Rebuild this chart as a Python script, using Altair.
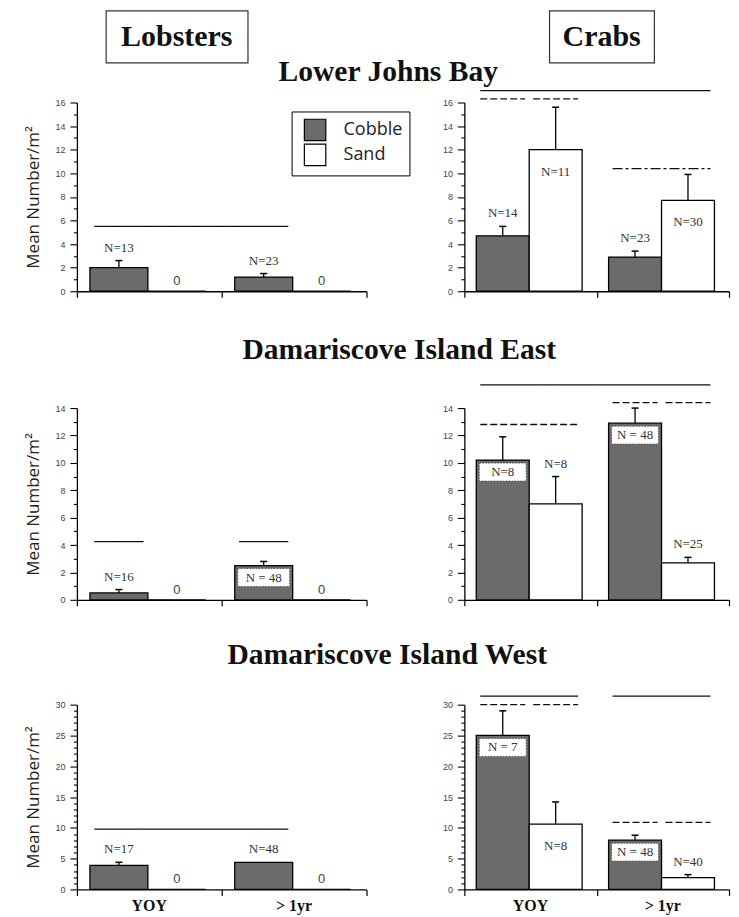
import altair as alt
import pandas as pd

# ---------------- data ----------------
ROWS = ["Lower Johns Bay", "Damariscove Island East", "Damariscove Island West"]
ANIMALS = ["Lobsters", "Crabs"]
AGES = ["YOY", "> 1yr"]
SUBSTRATES = ["Cobble", "Sand"]

Y_MAX = [16, 14, 30]
Y_STEP = [2, 2, 5]
Y_MINOR = [0.5, 0.5, 1]

bar_row = [r for r in ROWS for _ in range(8)]
bar_animal = [a for _ in ROWS for a in ANIMALS for _ in range(4)]
bar_age = [g for _ in range(6) for g in AGES for _ in range(2)]
bar_sub = SUBSTRATES * 12
bar_mean = [2.0, 0, 1.2, 0, 4.7, 12.0, 2.9, 7.7,
            0.5, 0, 2.5, 0, 10.2, 7.0, 12.9, 2.7,
            3.9, 0, 4.4, 0, 25.0, 10.6, 8.0, 1.9]
bar_err = [2.6, 0, 1.5, 0, 5.5, 15.6, 3.4, 9.9,
           0.75, 0, 2.8, 0, 11.9, 9.0, 14.0, 3.1,
           4.4, 0, 4.4, 0, 29.0, 14.2, 8.8, 2.4]
bar_label = ["N=13", "0", "N=23", "0", "N=14", "N=11", "N=23", "N=30",
             "N=16", "0", "N = 48", "0", "N=8", "N=8", "N = 48", "N=25",
             "N=17", "0", "N=48", "0", "N = 7", "N=8", "N = 48", "N=40"]
bar_mode = ["above", "zero", "above", "zero", "above", "in", "above", "in",
            "above", "zero", "box", "zero", "box", "above", "box", "above",
            "above", "zero", "above", "zero", "box", "in", "box", "above"]

# significance lines: row, animal, level, first bar, last bar, style
line_row = ["Lower Johns Bay"] * 5 + ["Damariscove Island East"] * 6 + ["Damariscove Island West"] * 7
line_animal = ["Lobsters", "Crabs", "Crabs", "Crabs", "Crabs",
               "Lobsters", "Lobsters", "Crabs", "Crabs", "Crabs", "Crabs",
               "Lobsters", "Crabs", "Crabs", "Crabs", "Crabs", "Crabs", "Crabs"]
line_y = [5.5, 17.0, 16.3, 16.3, 10.4,
          4.25, 4.25, 15.7, 12.8, 14.4, 14.4,
          9.8, 31.4, 31.4, 30.0, 30.0, 10.9, 10.9]
line_from = ["YOY|Cobble", "YOY|Cobble", "YOY|Cobble", "YOY|Sand", "> 1yr|Cobble",
             "YOY|Cobble", "> 1yr|Cobble", "YOY|Cobble", "YOY|Cobble", "> 1yr|Cobble", "> 1yr|Sand",
             "YOY|Cobble", "YOY|Cobble", "> 1yr|Cobble", "YOY|Cobble", "YOY|Sand", "> 1yr|Cobble", "> 1yr|Sand"]
line_to = ["> 1yr|Cobble", "> 1yr|Sand", "YOY|Cobble", "YOY|Sand", "> 1yr|Sand",
           "YOY|Cobble", "> 1yr|Cobble", "> 1yr|Sand", "YOY|Sand", "> 1yr|Cobble", "> 1yr|Sand",
           "> 1yr|Cobble", "YOY|Sand", "> 1yr|Sand", "YOY|Cobble", "YOY|Sand", "> 1yr|Cobble", "> 1yr|Sand"]
line_style = ["solid", "solid", "dashed", "dashed", "dashdot",
              "solid", "solid", "solid", "dashed", "dashed", "dashed",
              "solid", "solid", "solid", "dashed", "dashed", "dashed", "dashed"]

# ---------------- layout constants ----------------
COBBLE = "#6b6b6b"
SLOT_OFF = {"Cobble": 0.09, "Sand": 0.49}
BAR_W = 0.4
INSET = 0.03
LOB_W, CRAB_W = 290, 265
HEIGHTS = [189, 192, 185]
TITLE_OFF = [2, 18, 24]
TITLE_DX = [11, 22, 10]
SERIF = "Liberation Serif"
SANS = "Open Sans"


def slot_start(key):
    age, sub = key.split("|")
    return AGES.index(age) + SLOT_OFF[sub]


bars = pd.DataFrame(dict(row=bar_row, animal=bar_animal, age=bar_age, sub=bar_sub,
                         mean=bar_mean, err=bar_err, label=bar_label, mode=bar_mode))
bars["x0"] = [AGES.index(a) + SLOT_OFF[s] for a, s in zip(bars.age, bars["sub"])]
bars["x1"] = bars.x0 + BAR_W
bars["xc"] = bars.x0 + BAR_W / 2

lines = pd.DataFrame(dict(row=line_row, animal=line_animal, ly=line_y,
                          f=line_from, t=line_to, style=line_style))
lines["lx0"] = [slot_start(k) + INSET for k in lines.f]
lines["lx1"] = [slot_start(k) + BAR_W - INSET for k in lines.t]

age_labels = pd.DataFrame({"age": AGES, "xc": [AGES.index(a) + 0.5 for a in AGES]})

legend = alt.Legend(title=None, orient="none", legendX=215, legendY=101,
                    symbolType="square", symbolSize=460, symbolStrokeColor="black",
                    symbolStrokeWidth=1.2, symbolOffset=5, labelFont=SANS, labelFontSize=18,
                    labelColor="#222", strokeColor="black", padding=7,
                    rowPadding=-3, labelOffset=17, fillColor="white")


def panel(i_row, animal):
    row = ROWS[i_row]
    d = bars[(bars.row == row) & (bars.animal == animal)]
    l = lines[(lines.row == row) & (lines.animal == animal)]
    ymax, ystep, yminor = Y_MAX[i_row], Y_STEP[i_row], Y_MINOR[i_row]
    h = HEIGHTS[i_row]
    last = i_row == 2
    xscale = alt.Scale(domain=[0, 2], nice=False, zero=False)
    yscale = alt.Scale(domain=[0, ymax], nice=False)
    n_minor = int(round(ymax / yminor))
    yvals = [round(k * yminor, 3) for k in range(n_minor + 1)]
    major_test = f"datum.value % {ystep} == 0"
    xaxis = alt.Axis(values=[0, 1, 2], title=None, grid=False, labels=False,
                     tickSize=6, tickColor="black", domainColor="black", domainWidth=1.3,
                     tickWidth=1.2)
    yaxis = alt.Axis(
        values=yvals, grid=False, labelOverlap=False, format="d",
        labelExpr=f"{major_test} ? datum.label : ''",
        title="Mean Number/m²" if animal == "Lobsters" else None,
        tickSize={"condition": {"test": major_test, "value": 7}, "value": 3.5},
        labelPadding=5, labelFont="Liberation Sans", labelFontSize=9,
        labelColor="#444", domainColor="black", domainWidth=1.3, tickColor="black",
        tickWidth=1.1, titleFont=SANS, titleFontSize=17, titleFontWeight="normal",
        titleColor="#222", titlePadding=12)

    def X(f):
        return alt.X(f, scale=xscale, axis=xaxis)

    def Y(f):
        return alt.Y(f, scale=yscale, axis=yaxis)

    base = alt.Chart(d)
    bar_layer = base.mark_bar(stroke="black", strokeWidth=1.3).encode(
        x=X("x0:Q"), x2="x1:Q", y=Y("mean:Q"), y2=alt.datum(0),
        fill=alt.Fill("sub:N", scale=alt.Scale(domain=SUBSTRATES, range=[COBBLE, "white"]),
                      legend=legend),
    )
    errd = base.transform_filter("datum.err > datum.mean")
    stem = errd.mark_rule(color="black", strokeWidth=1.3).encode(
        x=X("xc:Q"), y=Y("mean:Q"), y2="err:Q")
    cap = errd.mark_rule(color="black", strokeWidth=1.5, xOffset=-3.5, x2Offset=3.5).encode(
        x=X("xc:Q"), x2="xc:Q", y=Y("err:Q"))
    above = base.transform_filter("datum.mode == 'above'").mark_text(
        dy=-13, font=SERIF, fontSize=13, color="#333").encode(
        x=X("xc:Q"), y=Y("err:Q"), text="label:N")
    inside = base.transform_filter("datum.mode == 'in'").mark_text(
        dy=22, font=SERIF, fontSize=13, color="#333").encode(
        x=X("xc:Q"), y=Y("mean:Q"), text="label:N")
    boxd = base.transform_filter("datum.mode == 'box'")
    box_rect = boxd.mark_rect(fill="white", stroke="#555", strokeDash=[1.5, 1.5], strokeWidth=1,
                              xOffset=3, x2Offset=-3, yOffset=3, y2Offset=21).encode(
        x=X("x0:Q"), x2="x1:Q", y=Y("mean:Q"), y2="mean:Q")
    box_text = boxd.mark_text(dy=12, font=SERIF, fontSize=13, color="#333").encode(
        x=X("xc:Q"), y=Y("mean:Q"), text="label:N")
    zero = base.transform_filter("datum.mode == 'zero'").mark_text(
        dy=-10, font="Liberation Sans", fontSize=13, color="#444").encode(
        x=X("xc:Q"), y=Y("mean:Q"), text="label:N")
    sig = alt.Chart(l).mark_rule(color="#111", strokeWidth=1.3).encode(
        x=X("lx0:Q"), x2="lx1:Q", y=Y("ly:Q"),
        strokeDash=alt.StrokeDash("style:N", scale=alt.Scale(
            domain=["solid", "dashed", "dashdot"], range=[[1, 0], [7, 3], [10, 3, 3, 3]]),
            legend=None))
    layers = [bar_layer, stem, cap, above, inside, box_rect, box_text, zero, sig]
    if last:
        layers.append(alt.Chart(age_labels).mark_text(
            font=SERIF, fontSize=16, fontWeight="bold", color="#111", baseline="top").encode(
            x=X("xc:Q"), y=alt.value(h + 9), text="age:N"))
    return alt.layer(*layers).properties(
        width=LOB_W if animal == "Lobsters" else CRAB_W, height=h)


def row_chart(i_row):
    return alt.hconcat(panel(i_row, "Lobsters"), panel(i_row, "Crabs"),
                       spacing=98, bounds="flush",
                       title=alt.TitleParams(ROWS[i_row], font=SERIF, fontSize=29.6,
                                             fontWeight="bold", color="#111",
                                             anchor="middle", offset=TITLE_OFF[i_row],
                                             dx=TITLE_DX[i_row])
                       ).resolve_scale(x="independent", y="independent", fill="shared",
                                       strokeDash="independent")


def header_box(text, w, h):
    return alt.Chart(pd.DataFrame({"t": [text]})).mark_text(
        font=SERIF, fontSize=30, fontWeight="bold", color="#111", baseline="middle").encode(
        text="t:N", x=alt.value(w / 2), y=alt.value(h / 2)).properties(
        width=w, height=h, view=alt.ViewBackground(stroke="#333", strokeWidth=1.2))


def spacer(w):
    return alt.Chart(pd.DataFrame({"t": [""]})).mark_text(fontSize=1, baseline="top").encode(
        text="t:N", x=alt.value(0), y=alt.value(2)).properties(width=w, height=10)


header = alt.hconcat(spacer(29), header_box("Lobsters", 142, 52), spacer(302),
                     header_box("Crabs", 105, 52), spacing=0, bounds="flush")

RES = dict(x="independent", y="independent", fill="shared", strokeDash="independent")
top = alt.vconcat(header, row_chart(0), spacing=-7).resolve_scale(**RES)
mid = alt.vconcat(top, row_chart(1), spacing=35).resolve_scale(**RES)
chart = alt.vconcat(mid, row_chart(2), spacing=32).resolve_scale(**RES).properties(
    padding={"left": 16, "top": 1, "right": 0, "bottom": 0}
).configure_view(stroke="transparent")

chart.save("out.html", embed_options={"renderer": "svg", "actions": False})
